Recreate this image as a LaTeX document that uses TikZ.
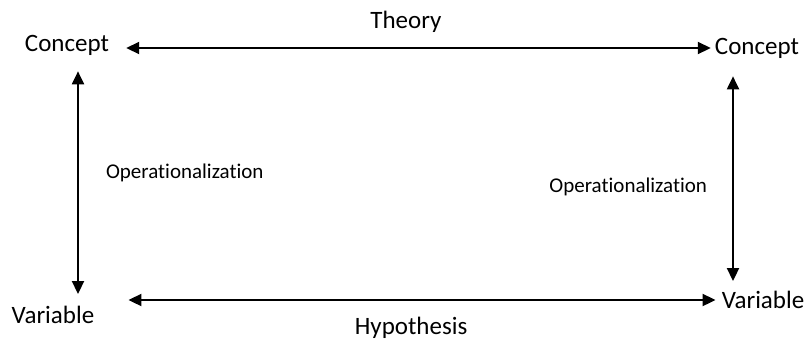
\documentclass[tikz,border=0pt]{standalone}
\usepackage{fontspec}
\setmainfont{Carlito}[Ligatures={NoCommon}]
\usepackage{tikz}
\usetikzlibrary{arrows.meta}

\begin{document}
\begin{tikzpicture}[
  x=1pt, y=-1pt,
  %--- shared styles ------------------------------------------------
  term/.style={
    inner sep=2pt, font=\fontsize{25}{30}\selectfont
  },
  oplbl/.style={
    inner sep=2pt, font=\fontsize{21}{25}\selectfont
  },
  arr/.style={
    {Triangle[length=13pt,width=12pt]}-{Triangle[length=13pt,width=12pt]},
    line width=2pt, color=black
  },
]
\useasboundingbox (0,0) rectangle (810,341);

%% --- corners: concepts (top) and variables (bottom) ---------------
\node[term] (conL) at (67, 45)   {Concept};
\node[term] (conR) at (757, 48)  {Concept};
\node[term] (varL) at (53, 315)  {Variable};
\node[term] (varR) at (763, 300) {Variable};

%% --- arrows -------------------------------------------------------
% theory: concept <-> concept
\draw[arr, shorten <=15pt, shorten >=2pt]
  (conL.east |- 0,48) -- (conR.west |- 0,48)
  node[term, pos=0.49, yshift=26pt]{Theory};
% hypothesis: variable <-> variable
\draw[arr, shorten <=32pt, shorten >=4pt]
  (varL.east |- 0,300) -- (varR.west)
  node[term, pos=0.505, yshift=-28pt]{Hypothesis};
% left operationalization
\draw[arr]
  ([yshift=-14pt]conL.south -| 78,0) -- ([yshift=10pt]varL.north -| 78,0)
  node[oplbl, right, pos=0.455, xshift=25pt]{Operationalization};
% right operationalization
\draw[arr]
  ([yshift=-16pt]conR.south -| 733,0) -- ([yshift=8pt]varR.north -| 733,0)
  node[oplbl, left, pos=0.54, xshift=-23pt]{Operationalization};

\end{tikzpicture}
\end{document}
